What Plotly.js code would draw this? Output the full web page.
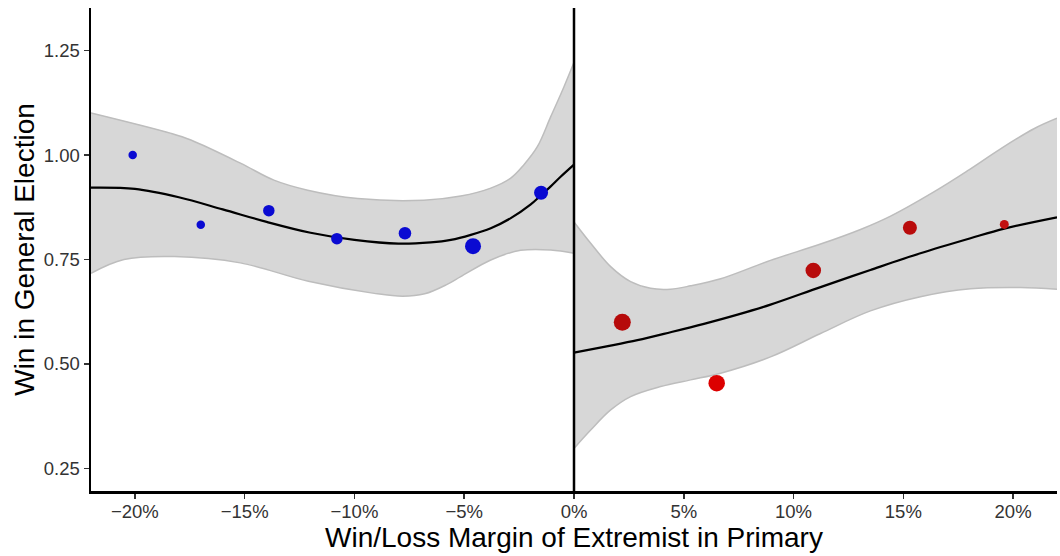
<!DOCTYPE html>
<html>
<head>
<meta charset="utf-8">
<script src="https://cdn.plot.ly/plotly-3.0.1.min.js"></script>
<style>html,body{margin:0;padding:0;background:#fff;}#chart{width:1060px;height:556px;}</style>
</head>
<body>
<div id="chart"></div>
<script>
// Binned points (margin as fraction, share winning general election)
const lossX = [-0.201, -0.170, -0.139, -0.108, -0.077, -0.046, -0.015];
const lossY = [1.000, 0.833, 0.867, 0.800, 0.813, 0.782, 0.910];
const lossSize = [8.5, 8.5, 11.5, 11.5, 12.5, 16, 14];
const lossColor = ['#0a0ad2', '#0a0ad2', '#0a0ad2', '#0a0ad2', '#0a0ad2', '#0a0ad2', '#0a0ad2'];

const winX = [0.022, 0.065, 0.109, 0.153, 0.196];
const winY = [0.600, 0.454, 0.724, 0.826, 0.834];
const winSize = [17, 16.5, 15.5, 14, 9];
const winColor = ['#b60a0a', '#dc0000', '#b80c0c', '#b90b0b', '#c21111'];

// Smoothed fit, losing side
const fitLX = [-0.22, -0.20, -0.18, -0.16, -0.14, -0.12, -0.10, -0.08, -0.0653, -0.0561, -0.047, -0.0379, -0.0288, -0.0197, -0.0152, -0.0106, -0.0061, 0];
const fitLY = [0.922, 0.919, 0.899, 0.870, 0.840, 0.814, 0.797, 0.788, 0.791, 0.797, 0.809, 0.825, 0.849, 0.882, 0.903, 0.925, 0.948, 0.977];
const upLX = [-0.22, -0.1835, -0.1745, -0.1517, -0.1367, -0.1213, -0.0985, -0.0684, -0.0516, -0.0379, -0.0288, -0.0228, -0.0167, -0.0106, -0.0046, 0];
const upLY = [1.101, 1.052, 1.036, 0.980, 0.940, 0.916, 0.896, 0.892, 0.902, 0.921, 0.945, 0.977, 1.020, 1.092, 1.163, 1.222];
const loLX = [-0.22, -0.205, -0.182, -0.152, -0.121, -0.091, -0.078, -0.068, -0.058, -0.0516, -0.0379, -0.0243, -0.0106, 0];
const loLY = [0.717, 0.750, 0.757, 0.742, 0.698, 0.669, 0.662, 0.668, 0.690, 0.709, 0.749, 0.772, 0.773, 0.765];

// Smoothed fit, winning side
const fitWX = [0, 0.0137, 0.0289, 0.044, 0.0592, 0.0745, 0.0895, 0.1123, 0.135, 0.1578, 0.1806, 0.196, 0.22];
const fitWY = [0.527, 0.541, 0.557, 0.576, 0.596, 0.618, 0.642, 0.684, 0.725, 0.765, 0.801, 0.824, 0.851];
const upWX = [0, 0.0076, 0.0167, 0.0258, 0.0349, 0.044, 0.0531, 0.0668, 0.0895, 0.1123, 0.1305, 0.1442, 0.1639, 0.1791, 0.1943, 0.2095, 0.22];
const upWY = [0.840, 0.789, 0.733, 0.697, 0.681, 0.679, 0.687, 0.704, 0.748, 0.787, 0.822, 0.854, 0.912, 0.962, 1.015, 1.063, 1.088];
const loWX = [0, 0.0076, 0.0167, 0.0258, 0.0395, 0.0531, 0.0668, 0.0895, 0.1123, 0.135, 0.1578, 0.1806, 0.2034, 0.22];
const loWY = [0.298, 0.342, 0.390, 0.422, 0.446, 0.462, 0.478, 0.517, 0.573, 0.627, 0.661, 0.680, 0.683, 0.679];

const xTicks = [-0.20, -0.15, -0.10, -0.05, 0, 0.05, 0.10, 0.15, 0.20];
const yTicks = [0.25, 0.50, 0.75, 1.00, 1.25];

function edge(x, y, fill) {
  return {
    x: x, y: y, type: 'scatter', mode: 'lines',
    fill: fill ? 'tonexty' : 'none',
    fillcolor: '#d7d7d7',
    line: {color: '#bdbdbd', width: 1.5, shape: 'spline', smoothing: 1.0},
    hoverinfo: 'skip', showlegend: false
  };
}
function fit(x, y) {
  return {x: x, y: y, type: 'scatter', mode: 'lines',
    line: {color: '#000', width: 2.2, shape: 'spline', smoothing: 1.0},
    hoverinfo: 'skip', showlegend: false};
}
function pts(x, y, s, c) {
  return {x: x, y: y, type: 'scatter', mode: 'markers',
    marker: {size: s, color: c, opacity: 1, line: {width: 0}},
    hoverinfo: 'skip', showlegend: false};
}

const data = [
  edge(loLX, loLY, false),
  edge(upLX, upLY, true),
  edge(loWX, loWY, false),
  edge(upWX, upWY, true),
  fit(fitLX, fitLY),
  fit(fitWX, fitWY),
  pts(lossX, lossY, lossSize, lossColor),
  pts(winX, winY, winSize, winColor)
];

const font = 'Liberation Sans, Arial, Helvetica, sans-serif';
const layout = {
  width: 1060, height: 556,
  margin: {l: 91, r: 3, t: 8, b: 65},
  paper_bgcolor: '#fff', plot_bgcolor: '#fff',
  font: {family: font, color: '#000'},
  showlegend: false,
  xaxis: {
    range: [-0.22, 0.22], tickvals: xTicks, tickformat: '.0%',
    showgrid: false, zeroline: false,
    showline: true, linecolor: '#000', linewidth: 2.5,
    ticks: 'outside', ticklen: 5, tickwidth: 1.5, tickcolor: '#333',
    ticklabelstandoff: -3,
    tickfont: {family: font, size: 18.5, color: '#333'},
    title: {text: 'Win/Loss Margin of Extremist in Primary', font: {family: font, size: 28, color: '#000'}, standoff: 0}
  },
  yaxis: {
    range: [0.196, 1.352], tickvals: yTicks, tickformat: '.2f',
    showgrid: false, zeroline: false,
    showline: true, linecolor: '#000', linewidth: 2.5,
    ticks: 'outside', ticklen: 5, tickwidth: 1.5, tickcolor: '#333',
    tickfont: {family: font, size: 18.5, color: '#333'},
    title: {text: 'Win in General Election', font: {family: font, size: 28, color: '#000'}, standoff: 1}
  },
  shapes: [{type: 'line', xref: 'x', yref: 'paper', x0: 0, x1: 0, y0: 0, y1: 1,
    line: {color: '#000', width: 2.5}, layer: 'above'}]
};

Plotly.newPlot('chart', data, layout, {staticPlot: true, displayModeBar: false});
</script>
</body>
</html>
